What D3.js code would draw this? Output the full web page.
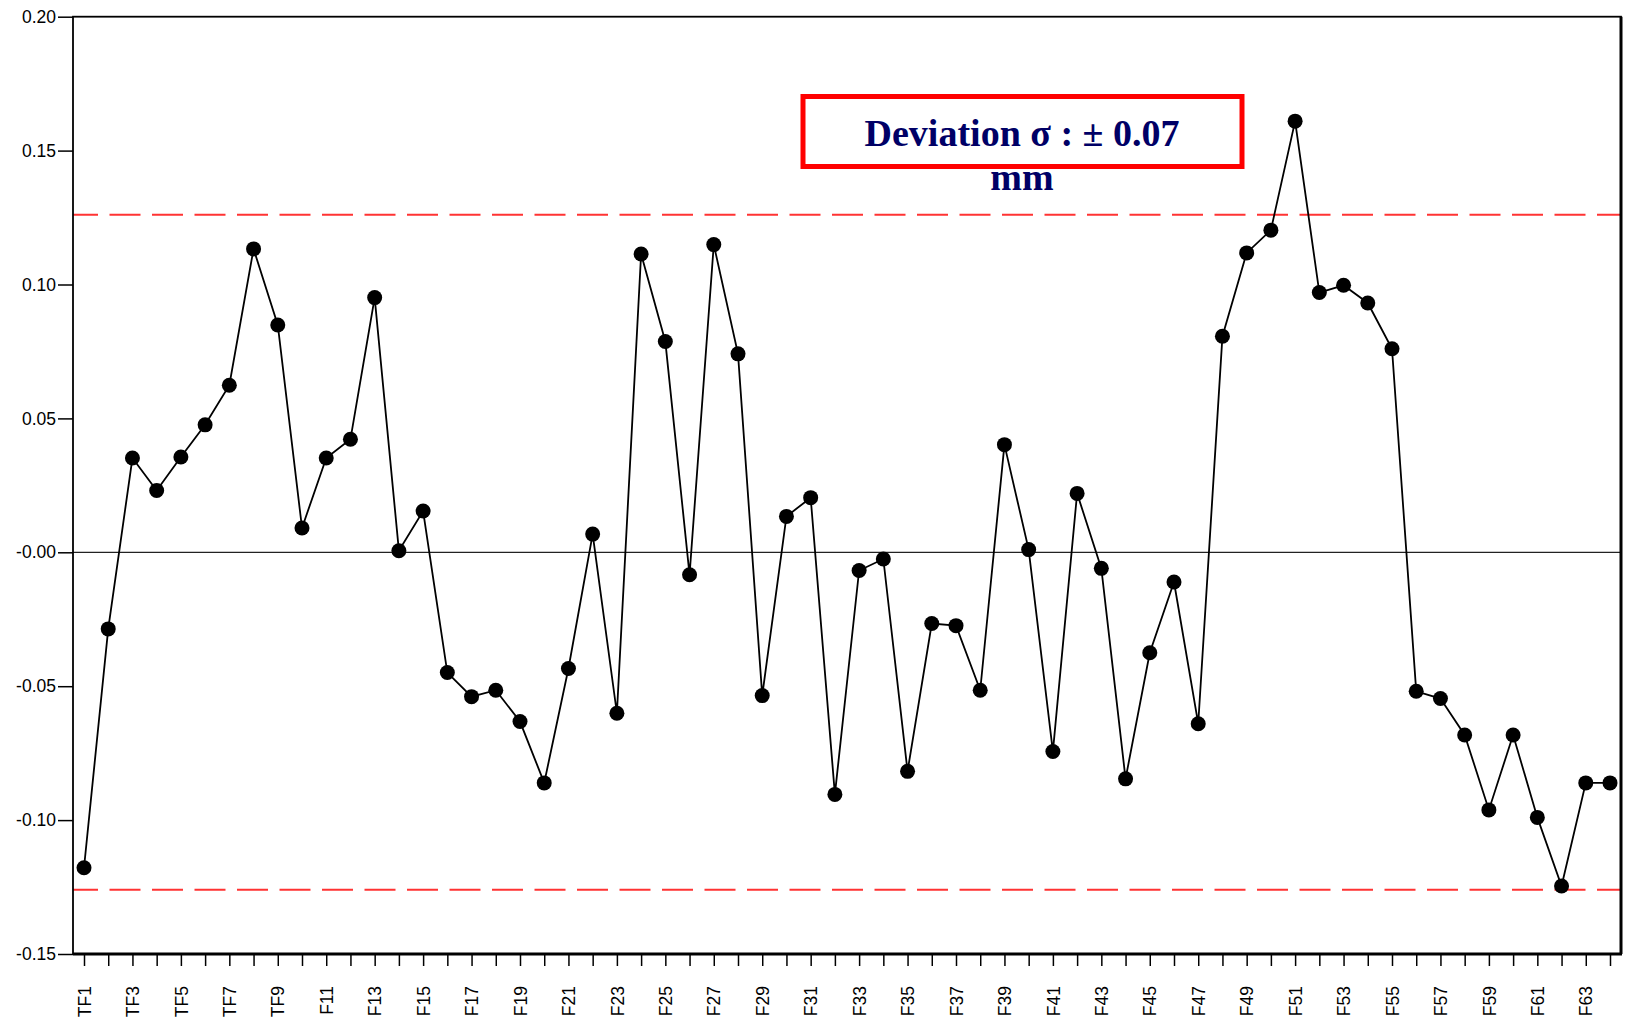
<!DOCTYPE html>
<html><head><meta charset="utf-8">
<script src="https://cdn.jsdelivr.net/npm/d3@7"></script>
<style>body{margin:0;background:#fff;overflow:hidden}</style>
</head><body>
<svg id="c" width="1633" height="1024"></svg>
<script>
const categories = ["TF1","TF2","TF3","TF4","TF5","TF6","TF7","TF8","TF9","TF10",
  "F11","F12","F13","F14","F15","F16","F17","F18","F19","F20",
  "F21","F22","F23","F24","F25","F26","F27","F28","F29","F30",
  "F31","F32","F33","F34","F35","F36","F37","F38","F39","F40",
  "F41","F42","F43","F44","F45","F46","F47","F48","F49","F50",
  "F51","F52","F53","F54","F55","F56","F57","F58","F59","F60",
  "F61","F62","F63","F64"];
const values = [-0.1178,-0.0286,0.0352,0.0231,0.0356,0.0476,0.0624,0.1133,0.0849,0.0091,
  0.0352,0.0422,0.0951,0.0006,0.0154,-0.0449,-0.0539,-0.0515,-0.0632,-0.0861,
  -0.0434,0.0068,-0.0601,0.1114,0.0787,-0.0084,0.1149,0.0741,-0.0535,0.0134,
  0.0204,-0.0904,-0.0068,-0.0025,-0.0818,-0.0266,-0.0274,-0.0515,0.0402,0.0010,
  -0.0744,0.0220,-0.0060,-0.0846,-0.0375,-0.0111,-0.0640,0.0807,0.1118,0.1203,
  0.1610,0.0970,0.0997,0.0931,0.0760,-0.0519,-0.0546,-0.0682,-0.0962,-0.0682,
  -0.0990,-0.1246,-0.0861,-0.0861];
const yTicks = [0.20,0.15,0.10,0.05,0,-0.05,-0.10,-0.15];
const yTickLabels = ["0.20","0.15","0.10","0.05","-0.00","-0.05","-0.10","-0.15"];
const limits = [0.126,-0.126];
const noteLines = ["Deviation \u03c3 : \u00b1 0.07","mm"];

const L=73, R=1621, T=16.7, B=954;
const svg = d3.select("#c");
const x = d3.scalePoint().domain(categories).range([84,1610]);
const y = d3.scaleLinear().domain([-0.15,0.20]).range([B,T]);

// y axis
const ya = svg.append("g").attr("transform",`translate(${L},0)`)
  .call(d3.axisLeft(y).tickValues(yTicks).tickFormat((d,i)=>yTickLabels[i]).tickSize(15).tickPadding(2));
ya.select(".domain").remove();
ya.selectAll("line").attr("stroke","#000").attr("stroke-width",1.5);
ya.selectAll("text").attr("font-family","'Liberation Sans',Arial,sans-serif").attr("font-size",17.5).attr("fill","#000");

// x axis
const xa = svg.append("g").attr("transform",`translate(0,${B})`)
  .call(d3.axisBottom(x).tickSize(12).tickFormat((d,i)=> i%2===0 ? d : ""));
xa.select(".domain").remove();
xa.selectAll("line").attr("stroke","#000").attr("stroke-width",1.5);
xa.selectAll("text").attr("font-family","'Liberation Sans',Arial,sans-serif").attr("font-size",17.5).attr("fill","#000")
  .attr("transform","rotate(-90)").attr("x",-32).attr("y",0).attr("dy","0.35em").style("text-anchor","end");

// zero line
svg.append("line").attr("x1",L).attr("x2",R).attr("y1",y(0)).attr("y2",y(0))
  .attr("stroke","#222").attr("stroke-width",1.3);

// limit lines
svg.selectAll(".lim").data(limits).join("line").attr("class","lim")
  .attr("x1",L).attr("x2",R).attr("y1",d=>y(d)).attr("y2",d=>y(d))
  .attr("stroke","#ff3333").attr("stroke-width",2).attr("stroke-dasharray","31,11.5").attr("stroke-dashoffset",6);

// frame
svg.append("rect").attr("x",L).attr("y",T).attr("width",R-L).attr("height",B-T)
  .attr("fill","none").attr("stroke","#000").attr("stroke-width",1.8);
svg.append("line").attr("x1",L).attr("x2",R+1).attr("y1",B).attr("y2",B).attr("stroke","#000").attr("stroke-width",3);
svg.append("line").attr("x1",R).attr("x2",R).attr("y1",T).attr("y2",B).attr("stroke","#000").attr("stroke-width",3);

// data line
const line = d3.line().x((d,i)=>x(categories[i])).y(d=>y(d));
svg.append("path").datum(values).attr("d",line).attr("fill","none").attr("stroke","#000").attr("stroke-width",1.8);
svg.selectAll(".dot").data(values).join("circle").attr("class","dot")
  .attr("cx",(d,i)=>x(categories[i])).attr("cy",d=>y(d)).attr("r",7.5).attr("fill","#000");

// annotation
svg.append("rect").attr("x",803).attr("y",96.5).attr("width",439).attr("height",70)
  .attr("fill","#fff").attr("stroke","#ff0000").attr("stroke-width",5);
svg.selectAll(".note").data(noteLines).join("text").attr("class","note")
  .attr("x",1022).attr("y",(d,i)=>i===0?146:190).attr("text-anchor","middle")
  .attr("font-family","'Liberation Serif','Times New Roman',serif").attr("font-weight","bold")
  .attr("font-size",38).attr("fill","#000066").text(d=>d);
</script>
</body></html>
